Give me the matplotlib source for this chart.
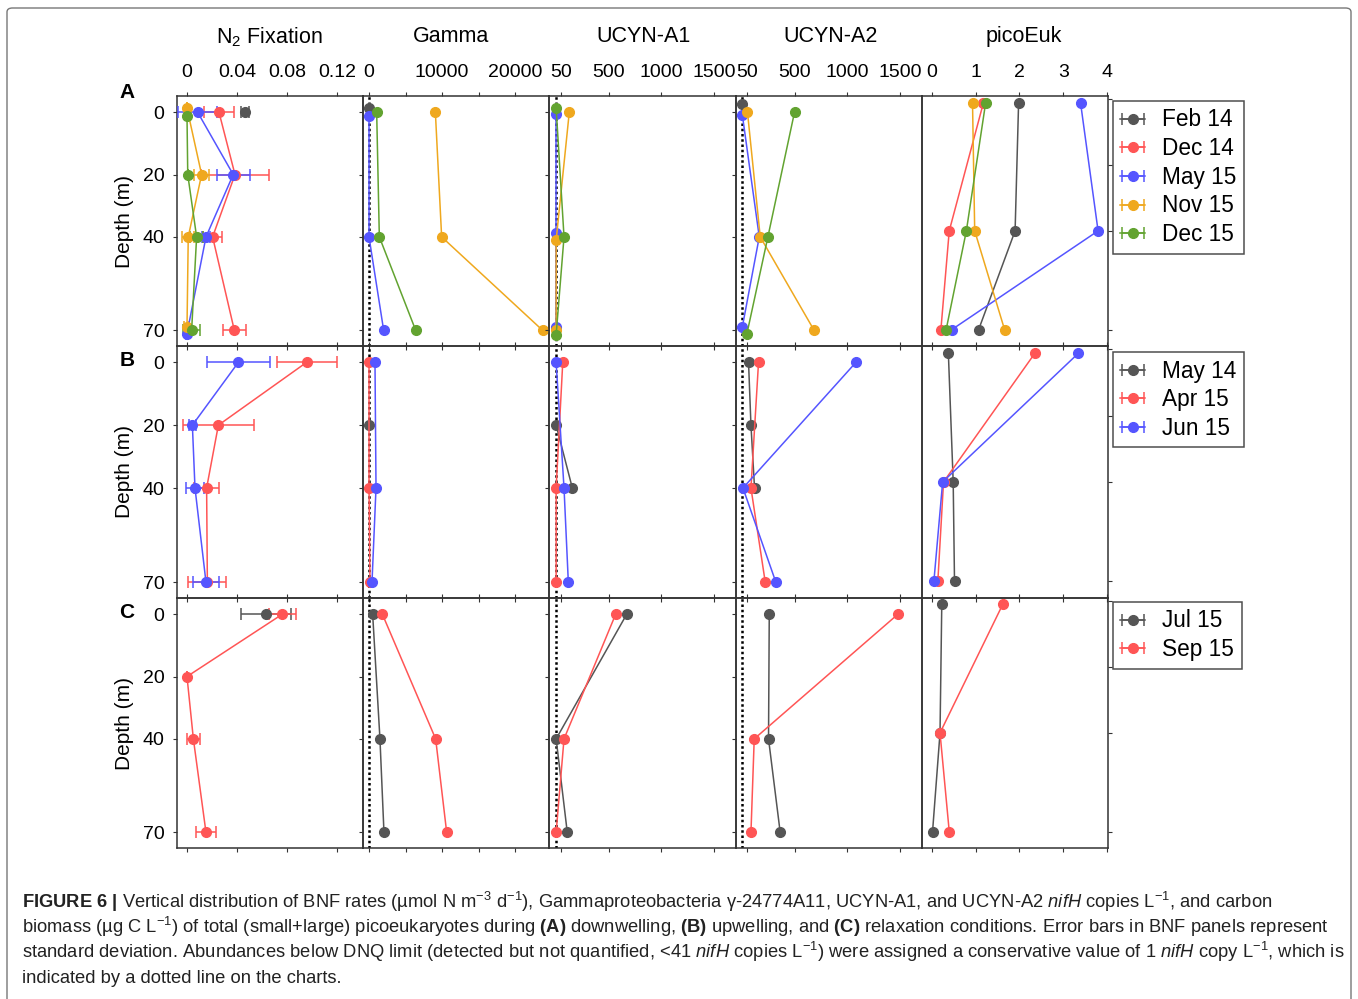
import numpy as np
import matplotlib
matplotlib.use("Agg")
import matplotlib.pyplot as plt
from matplotlib.patches import FancyBboxPatch

plt.rcParams.update({"font.family": "Liberation Sans", "mathtext.fontset": "custom",
    "mathtext.rm": "Liberation Sans", "mathtext.it": "Liberation Sans:italic",
    "mathtext.bf": "Liberation Sans:bold", "axes.linewidth": 1.1})

W, H = 1358, 999
GRAY, RED, BLUE, ORANGE, GREEN = "#555555", "#FF5555", "#5555FF", "#EFA81E", "#62A330"

DATES_A = ["Feb 14", "Dec 14", "May 15", "Nov 15", "Dec 15"]
DATES_B = ["May 14", "Apr 15", "Jun 15"]
DATES_C = ["Jul 15", "Sep 15"]
COLORS_A = [GRAY, RED, BLUE, ORANGE, GREEN]
COLORS_B = [GRAY, RED, BLUE]
COLORS_C = [GRAY, RED]

COL_TITLES = ["N$_2$ Fixation", "Gamma", "UCYN-A1", "UCYN-A2", "picoEuk"]
DEPTH_TICKS = [0, 20, 40, 70]

# N2 panels: date -> (depth, rate, sd); other panels: date -> (depth, value)
# (A) downwelling
A_N2 = {
    "Feb 14": ([0], [0.0465], [0.003]),
    "Dec 14": ([0, 20, 40, 70], [0.0256, 0.0384, 0.0205, 0.0379], [0.012, 0.027, 0.0076, 0.0093]),
    "May 15": ([0, 20, 40, 71], [0.0085, 0.037, 0.0152, 0.0], [0.0153, 0.0133, 0.003, 0.001]),
    "Nov 15": ([-1.3, 20, 40, 69], [0.0, 0.0117, 0.001, 0.0], [0.0, 0.006, 0.005, 0.002]),
    "Dec 15": ([1.1, 20, 40, 70], [0.0, 0.0006, 0.0077, 0.0037], [0.0, 0.0, 0.0053, 0.0067]),
}
A_GAMMA = {
    "Feb 14": ([-1.3], [1]),
    "May 15": ([1.1, 40, 70], [1, 1, 2010]),
    "Nov 15": ([0, 40, 70], [9090, 9950, 23790]),
    "Dec 15": ([0, 40, 70], [1050, 1415, 6400]),
}
A_A1 = {
    "May 15": ([0.6, 38.8, 68.9], [1, 1, 1]),
    "Nov 15": ([0, 41.1, 70], [126, 1, 1]),
    "Dec 15": ([-1.3, 40, 71.4], [1, 76, 1]),
}
A_A2 = {
    "Feb 14": ([-2.6], [1]),
    "May 15": ([0.85, 40, 68.9], [1, 162, 1]),
    "Nov 15": ([0, 40, 70], [50, 171, 684]),
    "Dec 15": ([0, 40, 71], [497, 244, 45]),
}
A_PICO = {
    "Feb 14": ([1, 40, 70], [1.98, 1.90, 1.07]),
    "Dec 14": ([1, 40, 70], [1.18, 0.40, 0.21]),
    "May 15": ([1, 40, 70], [3.39, 3.79, 0.46]),
    "Nov 15": ([1, 40, 70], [0.93, 0.98, 1.66]),
    "Dec 15": ([1, 40, 70], [1.23, 0.79, 0.33]),
}
# (B) upwelling
B_N2 = {
    "Apr 15": ([0, 20, 40, 70], [0.0957, 0.0251, 0.0157, 0.0163], [0.024, 0.0284, 0.01, 0.0153]),
    "Jun 15": ([0, 20, 40, 70], [0.0411, 0.0043, 0.0064, 0.0152], [0.0253, 0.003, 0.007, 0.0104]),
}
B_GAMMA = {
    "May 14": ([20], [1]),
    "Apr 15": ([0, 40, 70], [1, 1, 140]),
    "Jun 15": ([0, 40, 70], [820, 960, 410]),
}
B_A1 = {
    "May 14": ([20, 40], [1, 155]),
    "Apr 15": ([0, 40, 70], [64, 1, 1]),
    "Jun 15": ([0, 40, 70], [1, 76, 117]),
}
B_A2 = {
    "May 14": ([0, 20, 40], [60, 83, 117]),
    "Apr 15": ([0, 40, 70], [155, 83, 219]),
    "Jun 15": ([0, 40, 70], [1081, 7, 320]),
}
B_PICO = {
    "May 14": ([1.2, 40, 70], [0.38, 0.49, 0.52]),
    "Apr 15": ([1.2, 40, 70], [2.35, 0.27, 0.14]),
    "Jun 15": ([1.2, 40, 70], [3.34, 0.25, 0.05]),
}
# (C) relaxation
C_N2 = {
    "Jul 15": ([0], [0.063], [0.02]),
    "Sep 15": ([0, 20, 40, 70], [0.0763, 0.0, 0.0051, 0.0152], [0.0107, 0.0, 0.0053, 0.0077]),
}
C_GAMMA = {
    "Jul 15": ([0, 40, 70], [500, 1500, 2050]),
    "Sep 15": ([0, 40, 70], [1830, 9130, 10640]),
}
C_A1 = {
    "Jul 15": ([0, 40, 70], [672, 1, 107]),
    "Sep 15": ([0, 40, 70], [567, 76, 1]),
}
C_A2 = {
    "Jul 15": ([0, 40, 70], [257, 250, 361]),
    "Sep 15": ([0, 40, 70], [1480, 114, 83]),
}
C_PICO = {
    "Jul 15": ([0.9, 40, 70], [0.23, 0.19, 0.02]),
    "Sep 15": ([0.9, 40, 70], [1.62, 0.19, 0.40]),
}

ROWS = [("A", DATES_A, COLORS_A, [A_N2, A_GAMMA, A_A1, A_A2, A_PICO]),
        ("B", DATES_B, COLORS_B, [B_N2, B_GAMMA, B_A1, B_A2, B_PICO]),
        ("C", DATES_C, COLORS_C, [C_N2, C_GAMMA, C_A1, C_A2, C_PICO])]

# axis settings per column
XLIMS = [(-0.008, 0.141), (-795, 24710), (-63, 1707), (-63, 1707), (-0.225, 4.016)]
XTICKS = [[0, 0.04, 0.08, 0.12], [0, 5000, 10000, 15000, 20000], [50, 500, 1000, 1500],
          [50, 500, 1000, 1500], [0, 1, 2, 3, 4]]
XTLAB = [["0", "0.04", "0.08", "0.12"], ["0", "", "10000", "", "20000"],
         ["50", "500", "1000", "1500"], ["50", "500", "1000", "1500"], ["0", "1", "2", "3", "4"]]
TITLE_X = [269, 451, 643, 831, 1024]

COL_EDGES = [177, 363.2, 549.4, 735.6, 921.8, 1108]
ROW_EDGES = [96, 346, 598, 848]

fig = plt.figure(figsize=(W / 100, H / 100), dpi=100)

def px_box(x0, y0, x1, y1):
    return [x0 / W, 1 - y1 / H, (x1 - x0) / W, (y1 - y0) / H]

for r, (letter, dates, colors, panels) in enumerate(ROWS):
    for c, data in enumerate(panels):
        ax = fig.add_axes(px_box(COL_EDGES[c], ROW_EDGES[r], COL_EDGES[c + 1], ROW_EDGES[r + 1]))
        ax.set_facecolor("none")
        for s in ax.spines.values():
            s.set_color("#333333")
        ax.set_xlim(*XLIMS[c])
        if c == 4:
            ax.set_ylim(75, -1)
        else:
            ax.set_ylim(75, -5.2)
        if c in (1, 2, 3):
            ax.axvline(1, color="k", ls=(0, (1, 1.1)), lw=1.8, zorder=1)
        for d, col in zip(dates, colors):
            if d not in data:
                continue
            if c == 0:
                dep, val, sd = data[d]
                ax.errorbar(val, dep, xerr=sd, color=col, marker="o", ms=7, lw=1.1,
                            capsize=4, elinewidth=1.1, capthick=1.1, clip_on=False, zorder=3)
            else:
                dep, val = data[d]
                ax.plot(val, dep, color=col, marker="o", ms=7, lw=1.1, clip_on=False, zorder=3)
        ax.set_xticks(XTICKS[c])
        ax.tick_params(axis="x", which="both", top=True, bottom=True, direction="out",
                       length=3, width=0.8, labelbottom=False, labeltop=(r == 0),
                       labelsize=14, pad=8, color="#333333")
        if r == 0:
            ax.set_xticklabels(XTLAB[c])
        ax.set_yticks(DEPTH_TICKS)
        if c == 4:
            ax.tick_params(axis="y", left=False, right=True, labelleft=False, direction="out",
                           length=3, width=0.8, color="#333333")
        else:
            ax.tick_params(axis="y", left=True, right=False, labelleft=(c == 0), direction="out",
                           length=3, width=0.8, labelsize=14, pad=6, color="#333333")
        if c == 4:
            handles = []
            for d, col in zip(dates, colors):
                h = ax.errorbar([np.nan], [np.nan], xerr=[1], color=col, marker="o", ms=7,
                                lw=1.1, capsize=4.5, elinewidth=1.1, capthick=1.1, label=d)
                handles.append(h)
            ax.legend(handles=handles, loc="upper left",
                      bbox_to_anchor=(1.027, [0.98, 0.976, 0.984][r]), borderaxespad=0,
                      fontsize=16.3, frameon=True, fancybox=False, edgecolor="#222222",
                      handlelength=1.1, handletextpad=0.75, labelspacing=0.25,
                      borderpad=0.33)
            ax.get_legend().get_frame().set_linewidth(1.1)
    ymid = (ROW_EDGES[r] + ROW_EDGES[r + 1]) / 2
    fig.text(124 / W, 1 - ymid / H, "Depth (m)", rotation=90, ha="center", va="center", fontsize=15)
    fig.text(127 / W, 1 - [92, 361, 613][r] / H, letter, ha="center", va="center",
             fontsize=15, fontweight="bold")

for t, x in zip(COL_TITLES, TITLE_X):
    fig.text(x / W, 1 - 37 / H, t, ha="center", va="center", fontsize=15.5)

CAPTION = [
    r"$\mathbf{FIGURE\ 6\ |}$ Vertical distribution of BNF rates (µmol N m$^{-3}$ d$^{-1}$), Gammaproteobacteria γ-24774A11, UCYN-A1, and UCYN-A2 $\mathit{nifH}$ copies L$^{-1}$, and carbon",
    r"biomass (µg C L$^{-1}$) of total (small+large) picoeukaryotes during $\mathbf{(A)}$ downwelling, $\mathbf{(B)}$ upwelling, and $\mathbf{(C)}$ relaxation conditions. Error bars in BNF panels represent",
    r"standard deviation. Abundances below DNQ limit (detected but not quantified, <41 $\mathit{nifH}$ copies L$^{-1}$) were assigned a conservative value of 1 $\mathit{nifH}$ copy L$^{-1}$, which is",
    r"indicated by a dotted line on the charts.",
]
for i, line in enumerate(CAPTION):
    fig.text(22 / W, 1 - (908 + 25 * i) / H, line, ha="left", va="baseline", fontsize=13.2,
             color="#222222")

frame = FancyBboxPatch((7 / W, 1 - 1010 / H), (1351 - 7) / W, (1010 - 8) / H,
                       boxstyle="round,pad=0,rounding_size=0.004", transform=fig.transFigure,
                       fc="none", ec="#777777", lw=1)
fig.patches.append(frame)

fig.savefig("out.png", dpi=100)
